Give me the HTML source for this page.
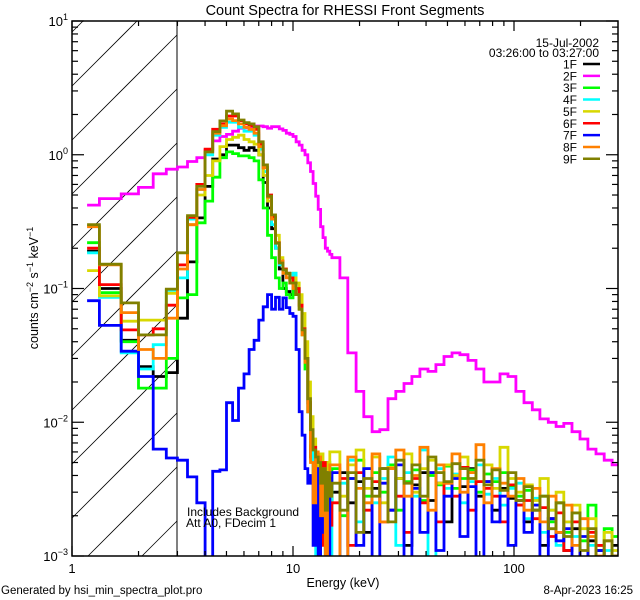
<!DOCTYPE html>
<html>
<head>
<meta charset="utf-8">
<style>
  html,body{margin:0;padding:0;background:#fff;width:640px;height:600px;overflow:hidden;}
  svg{display:block;font-family:"Liberation Sans",sans-serif;}
</style>
</head>
<body>
<svg id="chart" width="640" height="600" viewBox="0 0 640 600" xmlns="http://www.w3.org/2000/svg">
  <rect x="0" y="0" width="640" height="600" fill="#fff"/>
  <defs>
    <clipPath id="plotclip"><rect x="72" y="21" width="546" height="535"/></clipPath>
  </defs>
  <g id="hatchG"></g>
  <line x1="177" y1="21" x2="177" y2="556" stroke="#000" stroke-width="1"/>
  <g id="seriesG" clip-path="url(#plotclip)"></g>
  <rect x="72" y="21" width="546" height="535" fill="none" stroke="#000" stroke-width="1.5"/>
  <g id="ticksG"></g>
  <g id="labelsG" font-size="13" fill="#000"></g>

  <text x="345" y="15" font-size="14.5" text-anchor="middle">Count Spectra for RHESSI Front Segments</text>
  <text x="343" y="587" font-size="12.5" text-anchor="middle">Energy (keV)</text>
  <text transform="translate(38,288) rotate(-90)" font-size="12.5" text-anchor="middle">counts cm<tspan dy="-5" font-size="9">−2</tspan><tspan dy="5"> s</tspan><tspan dy="-5" font-size="9">−1</tspan><tspan dy="5"> keV</tspan><tspan dy="-5" font-size="9">−1</tspan></text>
  <text x="1" y="594" font-size="11.5">Generated by hsi_min_spectra_plot.pro</text>
  <text x="633" y="594" font-size="11.5" text-anchor="end">8-Apr-2023 16:25</text>
  <text x="187" y="516" font-size="12">Includes Background</text>
  <text x="186" y="527" font-size="12">Att A0, FDecim 1</text>
  <text x="599" y="47" font-size="12" text-anchor="end">15-Jul-2002</text>
  <text x="599" y="57" font-size="12" text-anchor="end">03:26:00 to 03:27:00</text>
  <g id="legendG" font-size="12"></g>
</svg>
<script>
// ---- data ----
const energyEdges = [1.17,1.33,1.67,2.0,2.33,2.67,3.0,
 3.33,3.67,4.0,4.33,4.67,5.0,5.33,5.67,6.0,6.33,6.67,7.0,7.33,7.67,8.0,8.33,8.67,9.0,9.33,9.67,10.0,
 10.33,10.67,11.0,11.33,11.67,12.0,12.33,12.67,13.0,13.33,13.67,14.0,14.33,14.67,15.0,
 16.3,17.7,19.3,20.9,22.8,24.7,26.9,29.2,31.8,34.5,37.5,40.8,44.3,48.2,52.4,56.9,61.9,67.3,73.1,79.5,86.4,93.9,102,111,121,131,143,155,168,183,199,216,235,256,278,302];
const seriesNames = ["1F","2F","3F","4F","5F","6F","7F","8F","9F"];
const seriesColors = ["#000000","#ff00ff","#00ff00","#00ffff","#d8d800","#ff0000","#0000ff","#ff8000","#808000"];

const counts1F = [0.19,0.1,0.041,0.026,0.022,0.0235,
 0.06,0.158,0.337,0.58,0.93,1.0,1.18,1.18,1.13,1.08,1.13,1.08,1.0,0.62,0.4,0.28,0.2,0.14,0.1,0.095,0.09,
 0.1,0.09,0.075,0.05,0.03,0.012,0.0055,0.005,0.0045,0.003,0.0048,0.0035,0.002,0.0042,0.0025,
 0.003,0.0042,0.0025,0.0036,0.0015,0.0032,0.0045,0.0022,0.0038,0.0012,0.0034,0.0042,0.0026,0.0035,0.0018,0.004,0.0033,0.0045,0.0028,0.0036,0.0022,0.0032,0.0027,0.0024,0.0018,0.0022,0.0012,0.0019,0.0015,0.0011,0.0016,0.0009,0.0013,0.0011,0.0008,0.0012];
const counts2F = [0.42,0.47,0.51,0.57,0.72,0.78,
 0.81,0.89,0.95,1.08,1.27,1.37,1.42,1.5,1.58,1.59,1.62,1.64,1.64,1.62,1.58,1.62,1.62,1.56,1.52,1.45,1.42,
 1.37,1.25,1.18,1.08,1.0,0.87,0.75,0.61,0.49,0.39,0.29,0.24,0.2,0.19,0.18,
 0.17,0.12,0.033,0.017,0.011,0.0085,0.0088,0.015,0.017,0.0195,0.022,0.025,0.024,0.027,0.031,0.033,0.032,0.029,0.025,0.02,0.02,0.023,0.022,0.017,0.014,0.0124,0.0106,0.01,0.0093,0.0098,0.0085,0.0075,0.0063,0.0058,0.0052,0.0048];
const counts3F = [0.22,0.093,0.04,0.018,0.018,0.03,
 0.085,0.09,0.31,0.45,0.68,0.95,1.05,1.02,0.98,0.98,0.95,0.9,0.65,0.4,0.25,0.17,0.12,0.1,0.11,0.09,0.085,
 0.13,0.1,0.07,0.045,0.025,0.012,0.007,0.0035,0.004,0.0012,0.0045,0.003,0.0008,0.005,0.0022,
 0.0045,0.002,0.0038,0.0052,0.0028,0.0042,0.003,0.0048,0.0022,0.0036,0.0044,0.0026,0.004,0.0034,0.0047,0.0032,0.0038,0.0044,0.003,0.0041,0.0036,0.0042,0.0033,0.0028,0.0031,0.0024,0.0028,0.0018,0.0025,0.0015,0.0021,0.0013,0.0024,0.0012,0.0016,0.0014];
const counts4F = [0.185,0.086,0.033,0.025,0.038,0.097,
 0.12,0.33,0.55,1.0,1.4,1.6,1.75,1.75,1.6,1.5,1.5,1.4,1.1,0.75,0.45,0.3,0.2,0.15,0.13,0.13,0.12,
 0.13,0.1,0.08,0.05,0.03,0.014,0.0075,0.0042,0.0009,0.0035,0.002,0.0045,0.0007,0.0028,0.004,
 0.0008,0.0035,0.0052,0.0018,0.0045,0.0025,0.0038,0.0055,0.0012,0.0042,0.0028,0.0062,0.0009,0.0045,0.0032,0.0041,0.0025,0.0036,0.0048,0.0029,0.0038,0.0024,0.0032,0.0035,0.0019,0.0027,0.0015,0.0022,0.0012,0.0018,0.0014,0.0009,0.0012,0.0008,0.0011,0.0007];
const counts5F = [0.136,0.088,0.057,0.058,0.058,0.092,
 0.15,0.3,0.5,0.7,0.9,1.15,1.3,1.35,1.4,1.3,1.25,1.2,1.0,0.7,0.45,0.35,0.25,0.17,0.14,0.13,0.12,
 0.12,0.11,0.09,0.065,0.04,0.02,0.011,0.0075,0.006,0.0035,0.0058,0.0025,0.005,0.0016,0.006,
 0.006,0.0028,0.0048,0.0062,0.0032,0.0055,0.0025,0.0046,0.0038,0.0058,0.003,0.0045,0.0052,0.0035,0.0048,0.004,0.0055,0.0042,0.0036,0.0048,0.0032,0.0065,0.0038,0.003,0.0034,0.0026,0.0038,0.0022,0.003,0.0018,0.0024,0.0016,0.0019,0.0012,0.0015,0.0011];
const counts6F = [0.2,0.107,0.049,0.045,0.05,0.075,
 0.15,0.34,0.6,1.1,1.55,1.7,1.95,1.95,1.8,1.7,1.65,1.55,1.2,0.8,0.5,0.34,0.22,0.16,0.14,0.13,0.12,
 0.11,0.1,0.075,0.05,0.03,0.014,0.0075,0.0065,0.003,0.0045,0.0012,0.005,0.0028,0.0036,0.0017,
 0.0025,0.0038,0.0012,0.0042,0.0022,0.0036,0.0018,0.0045,0.0028,0.0015,0.0038,0.0025,0.0042,0.0018,0.0035,0.0028,0.0046,0.0022,0.0036,0.0032,0.0028,0.0018,0.0034,0.0024,0.0026,0.0019,0.0023,0.0014,0.0021,0.0011,0.0018,0.0009,0.0015,0.0012,0.0008,0.001];
const counts7F = [0.081,0.053,0.034,0.022,0.0063,0.0054,
 0.0052,0.0039,0.0025,0.0005,0.0043,0.0044,0.014,0.0103,0.018,0.023,0.035,0.041,0.058,0.073,0.09,0.07,0.086,0.07,0.085,0.072,0.065,
 0.062,0.035,0.012,0.008,0.0045,0.0035,0.004,0.0012,0.0045,0.0006,0.0038,0.0015,0.0042,0.0005,0.0032,
 0.0042,0.0009,0.0038,0.0012,0.0045,0.0006,0.0035,0.0022,0.0048,0.0008,0.0032,0.0015,0.0042,0.0011,0.0028,0.0038,0.0014,0.0033,0.0009,0.0036,0.0018,0.0028,0.0012,0.0026,0.0015,0.0024,0.0009,0.0019,0.0013,0.0016,0.0008,0.0014,0.0009,0.0011,0.0007,0.0009];
const counts8F = [0.29,0.15,0.066,0.035,0.03,0.06,
 0.14,0.3,0.55,1.05,1.45,1.65,1.85,1.8,1.7,1.6,1.55,1.45,1.15,0.8,0.48,0.33,0.22,0.16,0.13,0.12,0.11,
 0.1,0.09,0.07,0.045,0.028,0.012,0.005,0.0025,0.006,0.0055,0.002,0.0045,0.0006,0.004,0.0048,
 0.0048,0.0006,0.0055,0.0032,0.0025,0.0058,0.0018,0.0045,0.0062,0.0028,0.004,0.0065,0.0022,0.0048,0.0035,0.0058,0.003,0.0042,0.0068,0.0025,0.0045,0.0035,0.0028,0.0038,0.0022,0.0032,0.0018,0.0028,0.0015,0.0024,0.0012,0.0019,0.0014,0.001,0.0013,0.0009];
const counts9F = [0.3,0.152,0.078,0.045,0.045,0.099,
 0.185,0.35,0.58,1.05,1.49,1.79,2.12,2.02,1.82,1.74,1.7,1.62,1.25,0.84,0.49,0.355,0.218,0.155,0.138,0.13,0.11,
 0.11,0.09,0.07,0.049,0.03,0.015,0.0088,0.0062,0.0055,0.005,0.0035,0.0045,0.0022,0.0042,0.0028,
 0.0035,0.0022,0.0042,0.0015,0.0038,0.0028,0.0045,0.0018,0.0052,0.0035,0.0048,0.0028,0.0055,0.0042,0.0036,0.0049,0.0045,0.0038,0.0052,0.0034,0.0044,0.0031,0.0042,0.0026,0.0033,0.0022,0.0028,0.0016,0.0025,0.0014,0.0021,0.0011,0.0016,0.0009,0.0013,0.001];

const xTickValues = [1,10,100];
const xTickLabels = ["1","10","100"];
const yTickExponents = [-3,-2,-1,0,1];

// ---- axes ----
const PL=72, PR=618, PT=21, PB=556, HATCH_R=177;
const X_MIN=1, X_DEC=221;
const Y_MAX_EXP=1, Y_DEC=(PB-PT)/4;
function xScale(e){ return Math.min(PL + X_DEC*Math.log10(e/X_MIN), PR); }
function yScale(v){ if(!(v>0)) return PB+3; const y = PT + Y_DEC*(Y_MAX_EXP-Math.log10(v)); return Math.min(y, PB+3); }

const SVGNS="http://www.w3.org/2000/svg";
function mk(tag, attrs, parent){ const el=document.createElementNS(SVGNS,tag); for(const k in attrs) el.setAttribute(k, attrs[k]); parent.appendChild(el); return el; }

// hatch: lines x+y=c clipped to [PL,HATCH_R]x[PT,PB]
const hatchGroup=document.getElementById('hatchG');
for(let k=-2;k<16;k++){
  const c=158+54*k;
  let xa=Math.max(PL, c-PB), xb=Math.min(HATCH_R, c-PT);
  if(xb<=xa) continue;
  const ln=mk('line',{x1:xa,y1:c-xa,x2:xb,y2:c-xb,stroke:'#000','stroke-width':0.8},hatchGroup);
  
  
}

// series
const allCounts=[counts1F,counts2F,counts3F,counts4F,counts5F,counts6F,counts7F,counts8F,counts9F];
const seriesGroup=document.getElementById('seriesG');
allCounts.forEach(function(vals,si){
  let d='M'+xScale(energyEdges[0]).toFixed(1)+','+yScale(vals[0]).toFixed(1);
  for(let i=0;i<vals.length;i++){
    if(i>0) d+=' V'+yScale(vals[i]).toFixed(1);
    d+=' H'+xScale(energyEdges[i+1]).toFixed(1);
  }
  const p=mk('path',{d:d,fill:'none',stroke:seriesColors[si],'stroke-width':2.8,'stroke-linejoin':'miter'},seriesGroup);
  
  
});

// ticks
const ticksGroup=document.getElementById('ticksG');
function tick(x1,y1,x2,y2,name){
  const t=mk('line',{x1:x1,y1:y1,x2:x2,y2:y2,stroke:'#000','stroke-width':1.2},ticksGroup);
  
  
}
for(let dec=1;dec<=100;dec*=10){
  for(let m=1;m<10;m++){
    const xr=PL + X_DEC*Math.log10(dec*m); if(xr>PR) continue;
    const len=(m===1)?10:5;
    tick(xr,PB,xr,PB-len,'x-tick');
    tick(xr,PT,xr,PT+len,'x-tick-top');
  }
}
for(let ex=-3;ex<1;ex++){
  for(let m=1;m<10;m++){
    const y=yScale(m*Math.pow(10,ex));
    const len=(m===1)?12:6;
    tick(PL,y,PL+len,y,'y-tick');
    tick(PR,y,PR-len,y,'y-tick-right');
  }
}
tick(PL,PT,PL+12,PT,'y-tick');
tick(PR,PT,PR-12,PT,'y-tick-right');

// labels
const labelsGroup=document.getElementById('labelsG');
xTickValues.forEach(function(v,i){
  const t=mk('text',{x:xScale(v),y:573,'text-anchor':'middle'},labelsGroup);
  t.textContent=xTickLabels[i];
  
  
});
yTickExponents.forEach(function(ex){
  const y=yScale(Math.pow(10,ex));
  const t=mk('text',{x:PL-4,y:y+5,'text-anchor':'end'},labelsGroup);
  
  
  const b=mk('tspan',{},t); b.textContent='10';
  const s=mk('tspan',{dy:-6,'font-size':9},t); s.textContent=(ex<0?'−':'')+Math.abs(ex);
});

// legend
const legendGroup=document.getElementById('legendG');
seriesNames.forEach(function(n,i){
  const y=64+i*11.85;
  const t=mk('text',{x:577,y:y+4.5,'text-anchor':'end'},legendGroup);
  t.textContent=n;
  
  
  const l=mk('line',{x1:583,y1:y,x2:600,y2:y,stroke:seriesColors[i],'stroke-width':2.5},legendGroup);
  
  
});
</script>
</body>
</html>
